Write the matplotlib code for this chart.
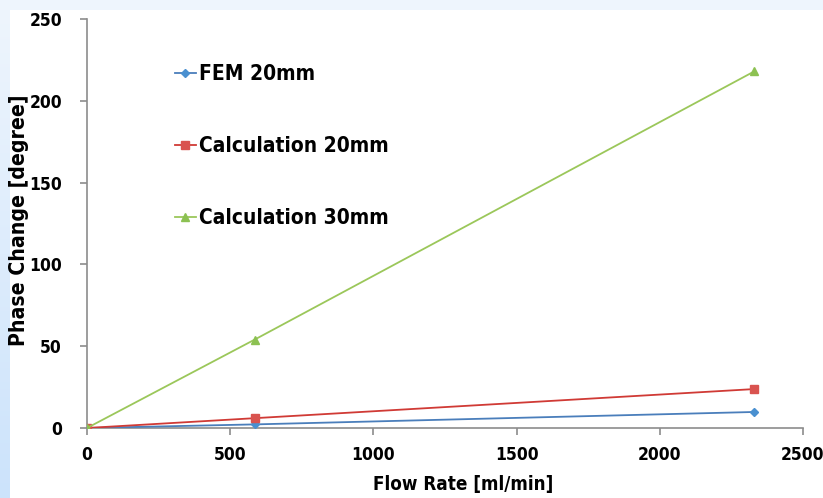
import numpy as np
import matplotlib
matplotlib.use("Agg")
import matplotlib.pyplot as plt
from matplotlib.patches import Rectangle
from matplotlib.colors import LinearSegmentedColormap
from matplotlib import font_manager
from matplotlib.font_manager import FontProperties

# Data
flow_rate = [0, 585, 2330]
fem_20mm = [0, 2.2, 9.8]
calc_20mm = [0, 6.0, 23.8]
calc_30mm = [0, 54.0, 218.0]
x_ticks = [0, 500, 1000, 1500, 2000, 2500]
y_ticks = [0, 50, 100, 150, 200, 250]


def _w(v):
    m = {'bold': 700, 'heavy': 800, 'black': 900, 'semibold': 600, 'demibold': 600,
         'extra bold': 800, 'normal': 400, 'regular': 400}
    if isinstance(v, (int, float)):
        return v
    return m.get(str(v).lower(), 400)


cands = [f for f in font_manager.fontManager.ttflist
         if ('Narrow' in f.name or 'Condensed' in f.name or 'condensed' in str(f.stretch))
         and _w(f.weight) >= 600 and 'Mono' not in f.name and 'Serif' not in f.name
         and 'italic' not in str(f.style)]
cands.sort(key=lambda f: abs(_w(f.weight) - 700))
if cands:
    fpath = cands[0].fname
    def FP(size):
        return FontProperties(fname=fpath, size=size)
    scale = 1.0
else:
    def FP(size):
        return FontProperties(family='DejaVu Sans', weight='bold', size=size)
    scale = 0.85

W, H = 823, 498
fig = plt.figure(figsize=(W / 100, H / 100), dpi=100, facecolor='white')

fig.patches.append(Rectangle((0, 1 - 10 / H), 1, 10 / H, transform=fig.transFigure,
                             facecolor='#EEF5FD', edgecolor='none', zorder=0))
bg = fig.add_axes([0, 0, 10 / W, 1 - 10 / H], zorder=0)
grad = np.linspace(0, 1, 256).reshape(-1, 1)
cmap = LinearSegmentedColormap.from_list('b', ['#CCE3FB', '#EEF5FD'])
bg.imshow(grad, aspect='auto', cmap=cmap, origin='lower', extent=[0, 1, 0, 1])
bg.axis('off')

ax = fig.add_axes([87 / W, 1 - 428 / H, (803 - 87) / W, (428 - 19) / H])
ax.set_facecolor('white')

ax.plot(flow_rate, fem_20mm, color='#4A7EBB', lw=1.3, marker='D', ms=4,
        markerfacecolor='#4A90D0', markeredgecolor='#4A90D0', label='FEM 20mm', zorder=3)
ax.plot(flow_rate, calc_20mm, color='#D03A35', lw=1.3, marker='s', ms=5.5,
        markerfacecolor='#D9534F', markeredgecolor='#D9534F', label='Calculation 20mm', zorder=3)
ax.plot(flow_rate, calc_30mm, color='#9BC75A', lw=1.3, marker='^', ms=6,
        markerfacecolor='#8CC152', markeredgecolor='#8CC152', label='Calculation 30mm', zorder=3)

ax.set_xlim(0, 2500)
ax.set_ylim(0, 250)
ax.set_xticks(x_ticks)
ax.set_yticks(y_ticks)
ax.set_xticklabels([str(v) for v in x_ticks], fontproperties=FP(12.5 * scale))
ax.set_yticklabels([str(v) for v in y_ticks], fontproperties=FP(12.5 * scale))

for s in ['top', 'right']:
    ax.spines[s].set_visible(False)
for s in ['left', 'bottom']:
    ax.spines[s].set_color('#8C8C8C')
    ax.spines[s].set_linewidth(1.2)
ax.tick_params(axis='both', direction='out', length=5, width=1.2, color='#8C8C8C')
ax.tick_params(axis='x', pad=8)
ax.tick_params(axis='y', pad=13)

ax.set_xlabel('Flow Rate [ml/min]', fontproperties=FP(13.5 * scale))
ax.set_ylabel('Phase Change [degree]', fontproperties=FP(15.2 * scale))
ax.xaxis.set_label_coords((463 - 87) / 716, (428 - 475) / 409)
ax.yaxis.set_label_coords((29 - 87) / 716, (428 - 220) / 409)

leg = ax.legend(loc='upper left', bbox_to_anchor=(0.111, 0.91), frameon=False,
                prop=FP(15 * scale), labelspacing=2.5,
                handlelength=1.0, handletextpad=0.15, borderaxespad=0)

fig.savefig('out.png', dpi=100, facecolor='white')
